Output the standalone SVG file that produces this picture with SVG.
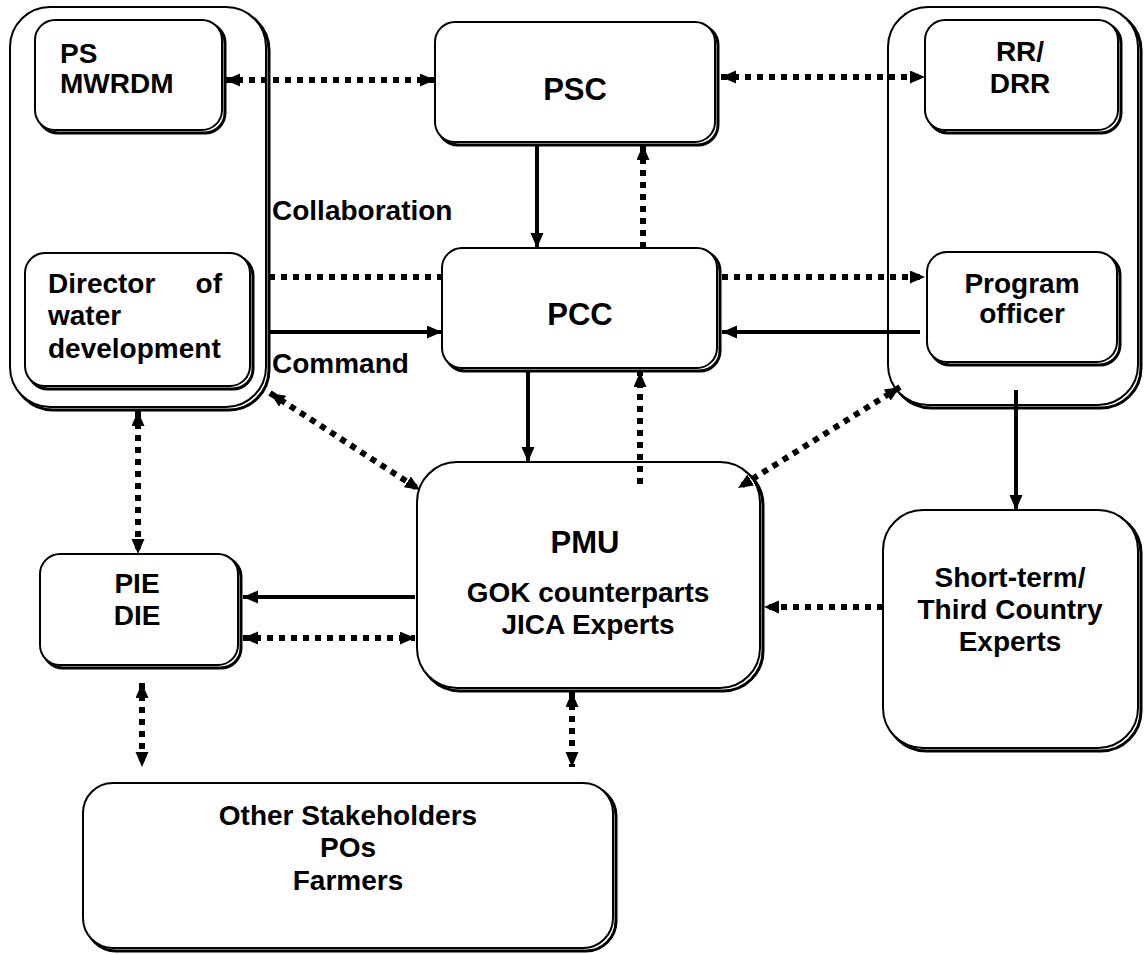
<svg xmlns="http://www.w3.org/2000/svg" width="1145" height="954" viewBox="0 0 1145 954">
<style>
.bx{fill:#fff;stroke:#000;stroke-width:2}
.sh{fill:none;stroke:#000;stroke-width:3}
.t{font-family:"Liberation Sans",Arial,sans-serif;font-weight:bold;font-size:28px;fill:#000}
.tb{font-family:"Liberation Sans",Arial,sans-serif;font-weight:bold;font-size:31px;fill:#000}
.c{text-anchor:middle}
.sol{stroke:#000;stroke-width:4;fill:none}
.dot{stroke:#000;stroke-width:6;fill:none;stroke-dasharray:6 6}
</style>
<defs>
<marker id="ah" markerUnits="userSpaceOnUse" markerWidth="16" markerHeight="14" refX="15" refY="6.5" orient="auto-start-reverse">
<path d="M0,0 L15,6.5 L0,13 z" fill="#000"/>
</marker>
</defs>
<rect width="1145" height="954" fill="#fff"/>

<g id="left-container">
<rect class="sh" x="13" y="10" width="256" height="400" rx="40"/>
<rect class="bx" x="10" y="7" width="256" height="400" rx="40"/>
</g>
<g id="right-container">
<rect class="sh" x="891" y="10" width="250" height="398" rx="40"/>
<rect class="bx" x="888" y="7" width="250" height="398" rx="40"/>
</g>

<g id="ps-mwrdm">
<rect class="sh" x="38" y="23" width="187" height="110" rx="20"/>
<rect class="bx" x="35" y="20" width="187" height="110" rx="20"/>
<text class="t" x="60" y="63">PS</text>
<text class="t" x="60" y="93">MWRDM</text>
</g>

<g id="director">
<rect class="sh" x="28" y="256" width="225" height="133" rx="20"/>
<rect class="bx" x="25" y="253" width="225" height="133" rx="20"/>
<text class="t" x="48" y="293">Director</text>
<text class="t" x="222" y="293" text-anchor="end">of</text>
<text class="t" x="48" y="325">water</text>
<text class="t" x="48" y="358">development</text>
</g>

<g id="psc">
<rect class="sh" x="438" y="25" width="280" height="120" rx="20"/>
<rect class="bx" x="435" y="22" width="280" height="120" rx="20"/>
<text class="tb c" x="575" y="100">PSC</text>
</g>

<g id="pcc">
<rect class="sh" x="445" y="251" width="275" height="120" rx="20"/>
<rect class="bx" x="442" y="248" width="275" height="120" rx="20"/>
<text class="tb c" x="580" y="325">PCC</text>
</g>

<g id="rr-drr">
<rect class="sh" x="928" y="23" width="193" height="110" rx="20"/>
<rect class="bx" x="925" y="20" width="193" height="110" rx="20"/>
<text class="t c" x="1020" y="61">RR/</text>
<text class="t c" x="1020" y="93">DRR</text>
</g>

<g id="program-officer">
<rect class="sh" x="930" y="255" width="190" height="110" rx="20"/>
<rect class="bx" x="927" y="252" width="190" height="110" rx="20"/>
<text class="t c" x="1022" y="293">Program</text>
<text class="t c" x="1022" y="323">officer</text>
</g>

<g id="pmu">
<rect class="sh" x="420" y="465" width="343" height="226" rx="40"/>
<rect class="bx" x="417" y="462" width="343" height="226" rx="40"/>
<text class="tb c" x="585" y="553">PMU</text>
<text class="t c" x="588" y="602">GOK counterparts</text>
<text class="t c" x="588" y="634">JICA Experts</text>
</g>

<g id="pie-die">
<rect class="sh" x="43" y="557" width="198" height="111" rx="20"/>
<rect class="bx" x="40" y="554" width="198" height="111" rx="20"/>
<text class="t c" x="137" y="593">PIE</text>
<text class="t c" x="137" y="625">DIE</text>
</g>

<g id="short-term">
<rect class="sh" x="886" y="513" width="255" height="238" rx="40"/>
<rect class="bx" x="883" y="510" width="255" height="238" rx="40"/>
<text class="t c" x="1010" y="587">Short-term/</text>
<text class="t c" x="1010" y="619">Third Country</text>
<text class="t c" x="1010" y="651">Experts</text>
</g>

<g id="other-stakeholders">
<rect class="sh" x="86" y="786" width="530" height="165" rx="30"/>
<rect class="bx" x="83" y="783" width="530" height="165" rx="30"/>
<text class="t c" x="348" y="825">Other Stakeholders</text>
<text class="t c" x="348" y="857">POs</text>
<text class="t c" x="348" y="890">Farmers</text>
</g>

<g id="labels">
<text class="t" x="272" y="220">Collaboration</text>
<text class="t" x="272" y="373">Command</text>
</g>

<g id="connectors">
<line class="dot" x1="225" y1="80" x2="435" y2="80" marker-start="url(#ah)" marker-end="url(#ah)"/>
<line class="dot" x1="721" y1="77" x2="925" y2="77" marker-start="url(#ah)" marker-end="url(#ah)"/>
<line class="sol" x1="537" y1="145" x2="537" y2="248" marker-end="url(#ah)"/>
<line class="dot" x1="643" y1="248" x2="643" y2="145" marker-end="url(#ah)"/>
<line class="dot" x1="269" y1="277" x2="442" y2="277"/>
<line class="sol" x1="269" y1="332" x2="442" y2="332" marker-end="url(#ah)"/>
<line class="dot" x1="722" y1="277" x2="925" y2="277" marker-end="url(#ah)"/>
<line class="sol" x1="920" y1="332" x2="722" y2="332" marker-end="url(#ah)"/>
<line class="sol" x1="528" y1="372" x2="528" y2="462" marker-end="url(#ah)"/>
<line class="dot" x1="640" y1="484" x2="640" y2="372" marker-end="url(#ah)"/>
<line class="dot" x1="270" y1="393" x2="420" y2="490" marker-start="url(#ah)" marker-end="url(#ah)"/>
<line class="dot" x1="900" y1="387" x2="738" y2="488" marker-start="url(#ah)" marker-end="url(#ah)"/>
<line class="sol" x1="1016" y1="390" x2="1016" y2="510" marker-end="url(#ah)"/>
<line class="dot" x1="883" y1="607" x2="764" y2="607" marker-end="url(#ah)"/>
<line class="dot" x1="138" y1="411" x2="138" y2="554" marker-start="url(#ah)" marker-end="url(#ah)"/>
<line class="sol" x1="415" y1="597" x2="243" y2="597" marker-end="url(#ah)"/>
<line class="dot" x1="243" y1="638" x2="415" y2="638" marker-start="url(#ah)" marker-end="url(#ah)"/>
<line class="dot" x1="142" y1="683" x2="142" y2="767" marker-start="url(#ah)" marker-end="url(#ah)"/>
<line class="dot" x1="572" y1="692" x2="572" y2="767" marker-start="url(#ah)" marker-end="url(#ah)"/>
</g>
</svg>
